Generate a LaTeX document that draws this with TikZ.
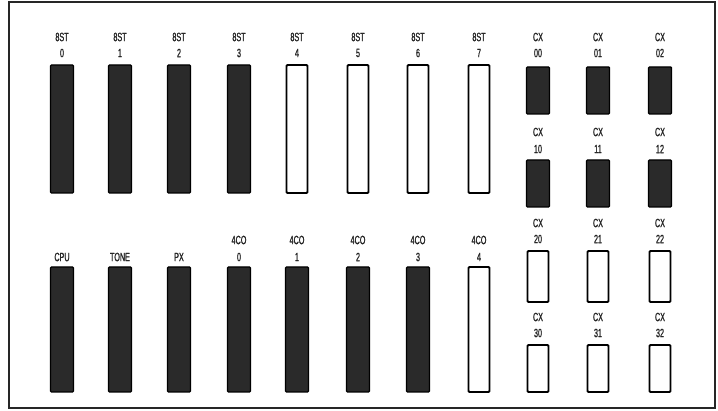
\documentclass[tikz,border=0pt]{standalone}
\usepackage{fontspec}
\newfontfamily\lblfont[FakeStretch=0.6, FakeBold=1.2]{Liberation Sans}
\definecolor{slotdark}{HTML}{2A2A2A}
\tikzset{
  slotfull/.style={draw=black, line width=1.4pt, fill=slotdark, rounded corners=1pt, minimum width=23pt, inner sep=0pt},
  slotempty/.style={draw=black, line width=1.8pt, fill=white, rounded corners=1pt, minimum width=21pt, inner sep=0pt},
  lbl/.style={font=\lblfont\fontsize{12}{12}\selectfont, inner sep=0pt, text=black!85},
}
\begin{document}
\begin{tikzpicture}[x=1pt, y=-1pt]
\useasboundingbox (0,0) rectangle (718,411);
% outer frame
\draw[line width=2.6pt, draw=black!85] (9,2) rectangle (715,408);

% upper row of long slots: 8ST 0-7
\foreach \i/\x/\st in {0/62/slotfull, 1/120/slotfull, 2/179/slotfull, 3/239/slotfull,
                       4/297/slotempty, 5/358/slotempty, 6/418/slotempty, 7/479/slotempty} {
  \node[\st, minimum height=128pt] (st\i) at (\x,129) {};
  \node[lbl] (stA\i) at (\x,37) {8ST};
  \node[lbl] (stB\i) at (\x,53) {\i};
}

% lower row of long slots
\node[slotfull, minimum height=125pt] (cpu) at (62,329.5) {};
\node[lbl] (cpuL) at (62,257) {CPU};
\node[slotfull, minimum height=125pt] (tone) at (120,329.5) {};
\node[lbl] (toneL) at (120,257) {TONE};
\node[slotfull, minimum height=125pt] (px) at (179,329.5) {};
\node[lbl] (pxL) at (179,257) {PX};
\foreach \i/\x/\st in {0/239/slotfull, 1/297/slotfull, 2/358/slotfull, 3/418/slotfull, 4/479/slotempty} {
  \node[\st, minimum height=125pt] (co\i) at (\x,329.5) {};
  \node[lbl] (coA\i) at (\x,240) {4CO};
  \node[lbl] (coB\i) at (\x,257) {\i};
}

% short CX slots, four rows of three
\foreach \r/\yc/\h/\ya/\yb/\st in {0/90.5/47/37/53/slotfull, 1/183.5/47/132/149/slotfull,
                                   2/276.5/51/223/239/slotempty, 3/368.5/47/317/333/slotempty} {
  \foreach \c/\x in {0/538, 1/598, 2/660} {
    \node[\st, minimum height=\h pt] (cx\r\c) at (\x,\yc) {};
    \node[lbl] (cxA\r\c) at (\x,\ya) {CX};
    \node[lbl] (cxB\r\c) at (\x,\yb) {\r\c};
  }
}
\end{tikzpicture}
\end{document}
